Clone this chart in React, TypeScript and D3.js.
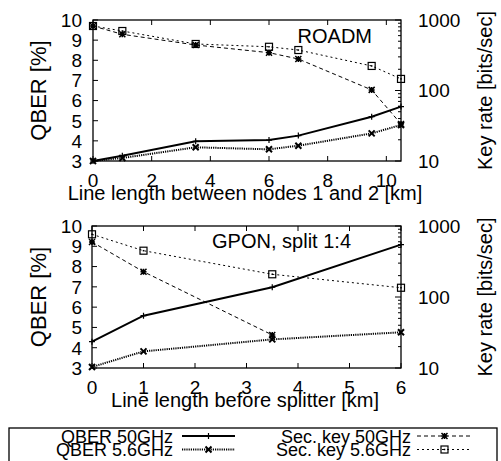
import React from 'react';
import * as d3 from 'd3';

// top panel: ROADM
const roadmX = [0, 1, 3.5, 6, 7, 9.5, 10.5];
const roadmQber50 = [3.0, 3.26, 3.98, 4.04, 4.26, 5.2, 5.7];
const roadmQber56 = [3.0, 3.15, 3.68, 3.58, 3.76, 4.37, 4.79];
const roadmKey50 = [822, 627, 442, 344, 280, 102, 33.5];
const roadmKey56 = [822, 698, 457, 417, 375, 223, 146];

// bottom panel: GPON
const gponX = [0, 1, 3.5, 6];
const gponQber50 = [4.3, 5.58, 6.98, 9.08];
const gponQber56 = [3.05, 3.82, 4.41, 4.76];
const gponKey50 = [596, 227, 29.2];
const gponKey56 = [764, 449, 209, 135];

const qberTicks = [3, 4, 5, 6, 7, 8, 9, 10];
const rateTicks = [10, 100, 1000];

const FONT = '"Liberation Sans", Arial, Helvetica, sans-serif';

const STYLES = {
  q50: { width: 2, dash: 'none', marker: 'plus' },
  q56: { width: 2, dash: '1.2,1', marker: 'x' },
  k50: { width: 1, dash: '4,3', marker: 'star' },
  k56: { width: 1, dash: '2,3', marker: 'square' },
};

const Marker = ({ x, y, type }) => {
  const s = 3;
  if (type === 'plus') {
    return <path d={`M${x - s},${y}H${x + s}M${x},${y - s}V${y + s}`} stroke="#000" strokeWidth={1.2} />;
  }
  if (type === 'x') {
    return <path d={`M${x - s},${y - s}L${x + s},${y + s}M${x - s},${y + s}L${x + s},${y - s}`} stroke="#000" strokeWidth={2} />;
  }
  if (type === 'star') {
    return (
      <path
        d={`M${x - s},${y - s}L${x + s},${y + s}M${x - s},${y + s}L${x + s},${y - s}M${x - s},${y}H${x + s}M${x},${y - s}V${y + s}`}
        stroke="#000"
        strokeWidth={1.5}
      />
    );
  }
  return (
    <g>
      <rect x={x - 3.5} y={y - 3.5} width={7} height={7} fill="none" stroke="#000" strokeWidth={1.2} />
      <rect x={x - 0.75} y={y - 0.75} width={1.5} height={1.5} fill="#000" />
    </g>
  );
};

const Series = ({ xs, ys, xScale, yScale, style }) => {
  const pts = ys.map((v, i) => [xScale(xs[i]), yScale(v)]);
  const line = d3.line()(pts);
  return (
    <g>
      <path d={line} fill="none" stroke="#000" strokeWidth={style.width} strokeDasharray={style.dash} />
      {pts.map((p, i) => (
        <Marker key={i} x={p[0]} y={p[1]} type={style.marker} />
      ))}
    </g>
  );
};

const Panel = ({ box, xMax, xTicks, xs, q50, q56, k50, k56, title, titleX, titleY, xLabel }) => {
  const { left, right, top, bottom } = box;
  const x = d3.scaleLinear().domain([0, xMax]).range([left, right]);
  const yL = d3.scaleLinear().domain([3, 10]).range([bottom, top]);
  const yR = d3.scaleLog().domain([10, 1000]).range([bottom, top]);

  const minor = [];
  [10, 100].forEach((dec) => {
    for (let m = 2; m <= 9; m++) minor.push(dec * m);
  });

  const midY = (top + bottom) / 2;

  return (
    <g fontFamily={FONT} fill="#000">
      {/* left ticks */}
      {qberTicks.map((t) => (
        <g key={'l' + t}>
          <line x1={left} x2={left + 5} y1={yL(t)} y2={yL(t)} stroke="#000" />
          <text x={82} y={yL(t) + 0.36 * 19} fontSize={19} textAnchor="end">{t}</text>
        </g>
      ))}
      {/* right ticks */}
      {rateTicks.map((t) => (
        <g key={'r' + t}>
          <line x1={right - 6} x2={right} y1={yR(t)} y2={yR(t)} stroke="#000" />
          <text x={418} y={yR(t) + 0.36 * 19} fontSize={19} textAnchor="start">{t}</text>
        </g>
      ))}
      {minor.map((t) => (
        <line key={'m' + t} x1={right - 3} x2={right} y1={yR(t)} y2={yR(t)} stroke="#000" />
      ))}
      {/* x ticks */}
      {xTicks.map((t) => (
        <g key={'x' + t}>
          <line x1={x(t)} x2={x(t)} y1={bottom} y2={bottom - 5} stroke="#000" />
          <line x1={x(t)} x2={x(t)} y1={top} y2={top + 5} stroke="#000" />
          <text x={x(t)} y={bottom + 26} fontSize={19} textAnchor="middle">{t}</text>
        </g>
      ))}

      <Series xs={xs} ys={q50} xScale={x} yScale={yL} style={STYLES.q50} />
      <Series xs={xs} ys={q56} xScale={x} yScale={yL} style={STYLES.q56} />
      <Series xs={xs} ys={k50} xScale={x} yScale={yR} style={STYLES.k50} />
      <Series xs={xs} ys={k56} xScale={x} yScale={yR} style={STYLES.k56} />

      <rect x={left} y={top} width={right - left} height={bottom - top} fill="none" stroke="#000" strokeWidth={1.3} />

      <text x={titleX} y={titleY} fontSize={20} textAnchor="end">{title}</text>
      <text x={245} y={bottom + 39} fontSize={20} textAnchor="middle">{xLabel}</text>
      <text transform={`translate(46,${midY}) rotate(-90)`} fontSize={22} textAnchor="middle">QBER [%]</text>
      <text transform={`translate(492,${midY}) rotate(-90)`} fontSize={20} textAnchor="middle">Key rate [bits/sec]</text>
    </g>
  );
};

const legendItems = [
  { label: 'QBER 50GHz', style: STYLES.q50, col: 0, row: 0 },
  { label: 'QBER 5.6GHz', style: STYLES.q56, col: 0, row: 1 },
  { label: 'Sec. key 50GHz', style: STYLES.k50, col: 1, row: 0 },
  { label: 'Sec. key 5.6GHz', style: STYLES.k56, col: 1, row: 1 },
];

const Legend = () => {
  const textRight = [173, 411];
  const sample = [[182, 235], [417, 472]];
  const rowY = [436, 449.5];
  return (
    <g fontFamily={FONT}>
      <rect x={9} y={428} width={488} height={50} fill="none" stroke="#000" strokeWidth={1.3} />
      {legendItems.map((it) => {
        const [x1, x2] = sample[it.col];
        const y = rowY[it.row];
        return (
          <g key={it.label}>
            <text x={textRight[it.col]} y={y + 6.5} fontSize={18} textAnchor="end">{it.label}</text>
            <line x1={x1} x2={x2} y1={y} y2={y} stroke="#000" strokeWidth={it.style.width} strokeDasharray={it.style.dash} />
            <Marker x={(x1 + x2) / 2} y={y} type={it.style.marker} />
          </g>
        );
      })}
    </g>
  );
};

export default function App() {
  return (
    <svg width={501} height={461} style={{ position: 'absolute', left: 0, top: 0, background: '#fff' }}>
      <rect width={501} height={461} fill="#fff" />
      <Panel
        box={{ left: 93, right: 401, top: 20, bottom: 161 }}
        xMax={10.5}
        xTicks={[0, 2, 4, 6, 8, 10]}
        xs={roadmX}
        q50={roadmQber50}
        q56={roadmQber56}
        k50={roadmKey50}
        k56={roadmKey56}
        title="ROADM"
        titleX={372}
        titleY={43}
        xLabel="Line length between nodes 1 and 2 [km]"
      />
      <Panel
        box={{ left: 92, right: 401, top: 226, bottom: 368 }}
        xMax={6}
        xTicks={[0, 1, 2, 3, 4, 5, 6]}
        xs={gponX}
        q50={gponQber50}
        q56={gponQber56}
        k50={gponKey50}
        k56={gponKey56}
        title="GPON, split 1:4"
        titleX={351}
        titleY={248}
        xLabel="Line length before splitter [km]"
      />
      <Legend />
    </svg>
  );
}
